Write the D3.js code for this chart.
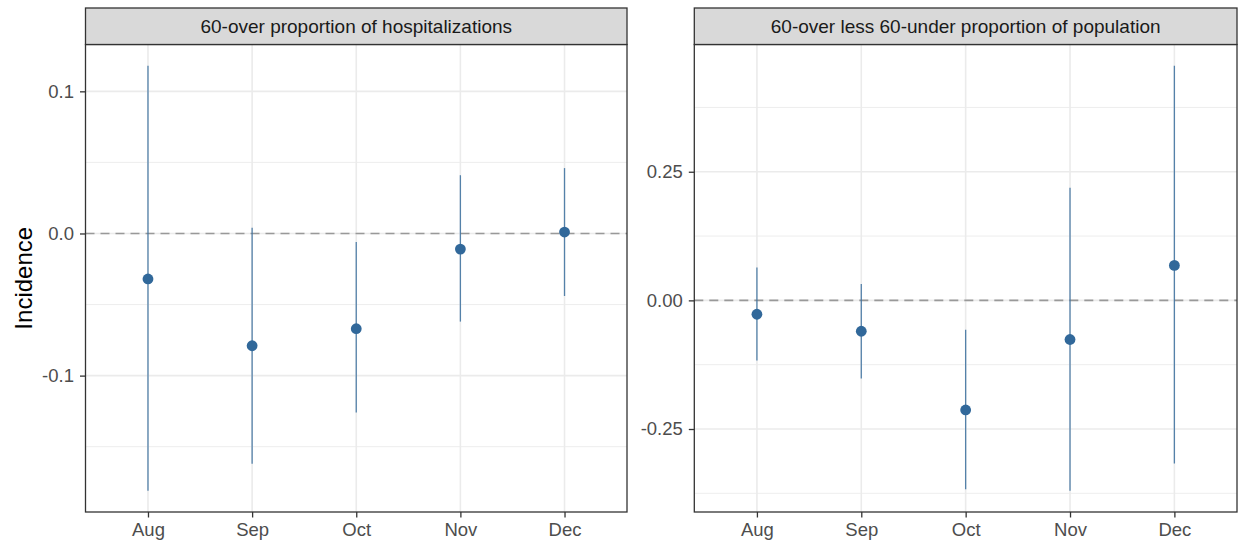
<!DOCTYPE html>
<html><head><meta charset="utf-8">
<script src="https://cdn.jsdelivr.net/npm/d3@7"></script>
<style>body{margin:0;background:#fff}svg{display:block}text{font-family:"Liberation Sans",Arial,sans-serif}</style>
</head><body><svg id="c" width="1238" height="544"></svg>
<script>
const months = ["Aug","Sep","Oct","Nov","Dec"];
const hospEst  = [-0.032, -0.079, -0.067, -0.011, 0.001];
const hospLow  = [-0.181, -0.162, -0.126, -0.062, -0.044];
const hospHigh = [0.118, 0.004, -0.006, 0.041, 0.046];
const popEst  = [-0.027, -0.060, -0.213, -0.076, 0.068];
const popLow  = [-0.117, -0.152, -0.367, -0.370, -0.317];
const popHigh = [0.064, 0.032, -0.057, 0.219, 0.456];
const hospTicks = [-0.1, 0, 0.1];
const hospTickLabels = ["-0.1","0.0","0.1"];
const hospMinor = [-0.15, -0.05, 0.05];
const popTicks = [-0.25, 0, 0.25];
const popTickLabels = ["-0.25","0.00","0.25"];
const popMinor = [-0.375, -0.125, 0.125, 0.375];
const titles = ["60-over proportion of hospitalizations","60-over less 60-under proportion of population"];

const svg = d3.select("#c");
const stripTop = 8, panelTop = 44.5, panelBottom = 512;
const tickFont = 18.5;

const panels = [
  {x0:85.5, x1:627, est:hospEst, low:hospLow, high:hospHigh, ticks:hospTicks, labels:hospTickLabels, minor:hospMinor, title:titles[0]},
  {x0:694.3, x1:1237, est:popEst, low:popLow, high:popHigh, ticks:popTicks, labels:popTickLabels, minor:popMinor, title:titles[1]}
];

panels.forEach(p => {
  const lo = d3.min(p.low), hi = d3.max(p.high), pad = (hi - lo) * 0.05;
  const y = d3.scaleLinear().domain([lo - pad, hi + pad]).range([panelBottom, panelTop]);
  const x = d3.scalePoint().domain(months).range([p.x0, p.x1]).padding(0.6);
  const g = svg.append("g");
  g.append("rect").attr("x",p.x0).attr("y",panelTop).attr("width",p.x1-p.x0).attr("height",panelBottom-panelTop).attr("fill","#fff");
  g.selectAll(".mn").data(p.minor).join("line")
    .attr("x1",p.x0).attr("x2",p.x1).attr("y1",d=>y(d)).attr("y2",d=>y(d))
    .attr("stroke","#ebebeb").attr("stroke-width",0.9);
  g.selectAll(".mj").data(p.ticks).join("line")
    .attr("x1",p.x0).attr("x2",p.x1).attr("y1",d=>y(d)).attr("y2",d=>y(d))
    .attr("stroke","#ebebeb").attr("stroke-width",1.6);
  g.selectAll(".vx").data(months).join("line")
    .attr("x1",d=>x(d)).attr("x2",d=>x(d)).attr("y1",panelTop).attr("y2",panelBottom)
    .attr("stroke","#ebebeb").attr("stroke-width",1.6);
  g.append("line").attr("x1",p.x0).attr("x2",p.x1).attr("y1",y(0)).attr("y2",y(0))
    .attr("stroke","#999").attr("stroke-width",1.6).attr("stroke-dasharray","9,6");
  g.selectAll(".eb").data(months).join("line")
    .attr("x1",d=>x(d)).attr("x2",d=>x(d))
    .attr("y1",(d,i)=>y(p.low[i])).attr("y2",(d,i)=>y(p.high[i]))
    .attr("stroke","#3a6e9e").attr("stroke-width",1.3).attr("stroke-opacity",0.85);
  g.selectAll(".pt").data(months).join("circle")
    .attr("cx",d=>x(d)).attr("cy",(d,i)=>y(p.est[i])).attr("r",5.4)
    .attr("fill","#31689a");
  g.append("rect").attr("x",p.x0).attr("y",panelTop).attr("width",p.x1-p.x0).attr("height",panelBottom-panelTop)
    .attr("fill","none").attr("stroke","#333").attr("stroke-width",1.3);
  g.append("rect").attr("x",p.x0).attr("y",stripTop).attr("width",p.x1-p.x0).attr("height",panelTop-stripTop)
    .attr("fill","#d9d9d9").attr("stroke","#333").attr("stroke-width",1.3);
  g.append("text").attr("x",(p.x0+p.x1)/2).attr("y",(stripTop+panelTop)/2).attr("dy","0.35em")
    .attr("text-anchor","middle").attr("font-size",19).attr("fill","#1a1a1a").text(p.title);
  const ya = g.append("g").attr("transform",`translate(${p.x0},0)`)
    .call(d3.axisLeft(y).tickValues(p.ticks).tickFormat((d,i)=>p.labels[i]).tickSize(5.5).tickPadding(6));
  ya.select(".domain").remove();
  ya.selectAll(".tick line").attr("stroke","#333").attr("stroke-width",1.3);
  ya.selectAll(".tick text").attr("font-size",tickFont).attr("fill","#4d4d4d").attr("font-family","Liberation Sans, Arial, sans-serif");
  const xa = g.append("g").attr("transform",`translate(0,${panelBottom})`)
    .call(d3.axisBottom(x).tickSize(5.5).tickPadding(5.5));
  xa.select(".domain").remove();
  xa.selectAll(".tick line").attr("stroke","#333").attr("stroke-width",1.3);
  xa.selectAll(".tick text").attr("font-size",tickFont).attr("fill","#4d4d4d").attr("font-family","Liberation Sans, Arial, sans-serif");
});

svg.append("text").attr("transform",`translate(32,${(panelTop+panelBottom)/2}) rotate(-90)`)
  .attr("text-anchor","middle").attr("font-size",24).attr("fill","#000").text("Incidence");
</script></body></html>
